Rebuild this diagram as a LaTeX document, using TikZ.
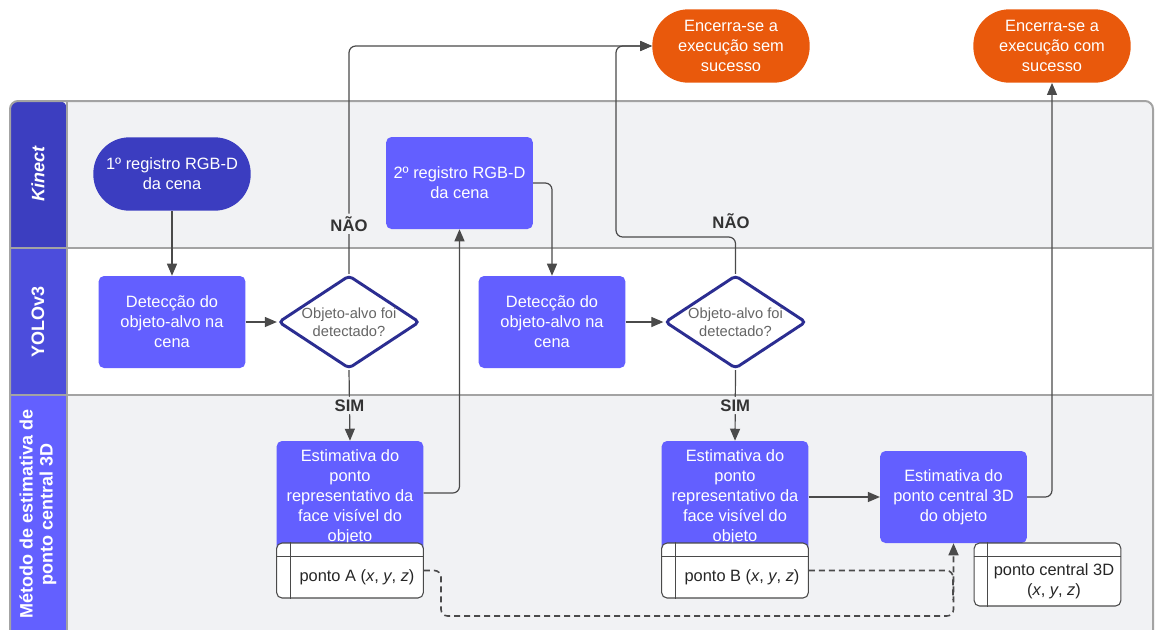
\documentclass[tikz,border=0pt]{standalone}
\usepackage{fontspec}
\setmainfont{Liberation Sans}
\usetikzlibrary{shapes.geometric,arrows.meta}

\definecolor{lanegray}{HTML}{F1F2F4}
\definecolor{laneline}{HTML}{A3A3A3}
\definecolor{hdrkinect}{HTML}{3C3EC0}
\definecolor{hdryolo}{HTML}{4C4DDC}
\definecolor{hdrmethod}{HTML}{6360FF}
\definecolor{procblue}{HTML}{635FFF}
\definecolor{startblue}{HTML}{3B3DC0}
\definecolor{decblue}{HTML}{2B2D91}
\definecolor{endorange}{HTML}{E9590C}
\definecolor{flowgray}{HTML}{4A4A4A}
\definecolor{darktext}{HTML}{333333}

\newcommand{\boxfont}{\fontsize{12.3pt}{15pt}\selectfont}

\tikzset{
  lanetitle/.style={text=white, font=\bfseries\fontsize{13.5pt}{15pt}\selectfont, align=center, rotate=90},
  procnode/.style={fill=procblue, text=white, font=\boxfont, align=center, rounded corners=4pt,
    minimum width=110pt, minimum height=69pt, inner sep=2pt},
  estnode/.style={procnode, minimum height=84pt},
  startnode/.style={fill=startblue, text=white, font=\boxfont, align=center, rounded corners=27pt,
    minimum width=118pt, minimum height=55pt},
  endnode/.style={startnode, fill=endorange},
  decision/.style={diamond, draw=decblue, line width=2.2pt, fill=white, inner sep=0pt,
    minimum width=106pt, minimum height=70pt, rounded corners=3pt},
  dectext/.style={text=flowgray!85, font=\fontsize{11pt}{13.5pt}\selectfont, align=center},
  tablebox/.style={draw=flowgray, fill=white, rounded corners=4pt, line width=0.8pt,
    minimum width=110pt, minimum height=41.25pt},
  tabline/.style={draw=flowgray, line width=0.8pt},
  tabtext/.style={text=black!85, font=\boxfont, align=center},
  branch/.style={fill=lanegray, text=darktext, font=\bfseries\fontsize{12.5pt}{14pt}\selectfont, inner sep=2pt},
  flow/.style={draw=flowgray, line width=0.9pt, rounded corners=5pt,
    -{Triangle[length=9pt,width=7.5pt]}},
  dataflow/.style={flow, dashed, line width=1.2pt, dash pattern=on 4.5pt off 3pt},
  dataline/.style={dataflow, -}
}

\begin{document}
\begin{tikzpicture}[x=0.75pt,y=-0.75pt]
\useasboundingbox (0,0) rectangle (1155,629);

% lanes
\fill[lanegray, rounded corners=6pt] (10,101) rectangle (1153,650);
\fill[white] (67,248) rectangle (1153,395);
\fill[hdrkinect, rounded corners=6pt] (10,248) |- (67,101) [sharp corners] -- (67,248) -- cycle;
\fill[hdryolo] (10,248) rectangle (67,395);
\fill[hdrmethod] (10,395) rectangle (67,650);
\draw[laneline, line width=1.5pt, rounded corners=6pt] (10,650) |- (1153,101) -- (1153,650);
\draw[laneline, line width=1.5pt] (10,248) -- (1153,248);
\draw[laneline, line width=1.5pt] (10,395) -- (1153,395);
\draw[laneline, line width=1.5pt] (67,101) -- (67,650);

\node[lanetitle] (kinect) at (38,174) {\itshape Kinect};
\node[lanetitle] (yolo) at (38,322) {YOLOv3};
\node[lanetitle] (method) at (38,514) {Método de estimativa de\\ponto central 3D};

% first capture
\node[startnode] (reg1) at (172,174) {1º registro RGB-D\\da cena};
\node[procnode] (det1) at (172,322) {Detecção do\\objeto-alvo na\\cena};
\node[decision] (dia1) at (349,322) {};
\node[dectext] (q1) at (dia1) {Objeto-alvo foi\\detectado?};
\node[estnode] (est1) at (350,497) {Estimativa do\\ponto\\representativo da\\face visível do\\objeto};
\node[tablebox] (tabA) at (350,570.5) {};
\draw[tabline] ([yshift=-10.5pt]tabA.north west) -- ([yshift=-10.5pt]tabA.north east);
\draw[tabline] ([xshift=10.5pt]tabA.north west) -- ([xshift=10.5pt]tabA.south west);
\node[tabtext] (ptA) at (357,577) {ponto A (\textit{x}, \textit{y}, \textit{z})};

% second capture
\node[procnode] (reg2) at (459.5,183) {2º registro RGB-D\\da cena};
\node[procnode] (det2) at (552,322) {Detecção do\\objeto-alvo na\\cena};
\node[decision] (dia2) at (735.5,322) {};
\node[dectext] (q2) at (dia2) {Objeto-alvo foi\\detectado?};
\node[estnode] (est2) at (735,497) {Estimativa do\\ponto\\representativo da\\face visível do\\objeto};
\node[tablebox] (tabB) at (735,570.5) {};
\draw[tabline] ([yshift=-10.5pt]tabB.north west) -- ([yshift=-10.5pt]tabB.north east);
\draw[tabline] ([xshift=10.5pt]tabB.north west) -- ([xshift=10.5pt]tabB.south west);
\node[tabtext] (ptB) at (742,577) {ponto B (\textit{x}, \textit{y}, \textit{z})};

% 3D centre
\node[procnode] (est3) at (953.5,497) {Estimativa do\\ponto central 3D\\do objeto};
\node[tablebox, minimum height=47.25pt] (tabC) at (1047.5,574.5) {};
\draw[tabline] ([yshift=-10.5pt]tabC.north west) -- ([yshift=-10.5pt]tabC.north east);
\draw[tabline] ([xshift=10.5pt]tabC.north west) -- ([xshift=10.5pt]tabC.south west);
\node[tabtext] (ptC) at (1054,581) {ponto central 3D\\(\textit{x}, \textit{y}, \textit{z})};

% end states
\node[endnode] (fail) at (731,46) {Encerra-se a\\execução sem\\sucesso};
\node[endnode] (done) at (1052,46) {Encerra-se a\\execução com\\sucesso};

% connectors
\coordinate (c2) at (616,237);
\coordinate (d1) at (441,616);
\coordinate (d2) at (953,600);

\draw[flow] (reg1.south) -- (det1.north);
\draw[flow] (det1.east) -- (dia1.west);
\draw[flow] (dia1.north) |- node[branch, pos=0.11] (no1) {NÃO} (fail.west);
\draw[flow] (dia1.south) -- node[branch] (yes1) {SIM} (est1.north);
\draw[flow] ([yshift=3pt]est1.east) -| (reg2.south);
\draw[flow] (reg2.east) -| (det2.north);
\draw[flow] (det2.east) -- (dia2.west);
\draw[flow] (dia2.north) |- (c2) |- (fail.west);
\node[branch] (no2) at (731,221) {NÃO};
\draw[flow] (dia2.south) -- node[branch] (yes2) {SIM} (est2.north);
\draw[flow] (est2.east) -- (est3.west);
\draw[flow] (est3.east) -| (done.south);

% data
\draw[dataflow] (tabA.east) -| (d1) -| (est3.south);
\draw[dataline] (tabB.east) -| (d2);

\end{tikzpicture}
\end{document}
